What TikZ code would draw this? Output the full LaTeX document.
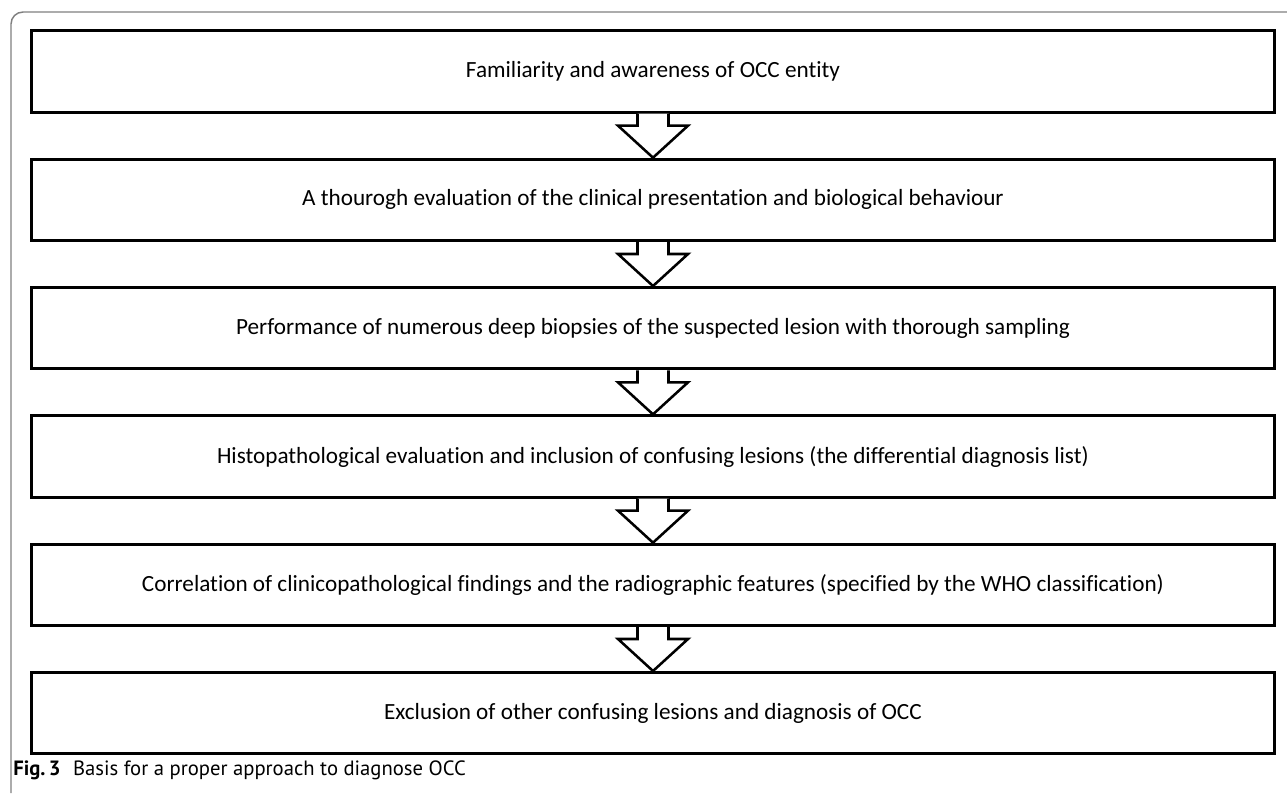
\documentclass[tikz,border=0pt]{standalone}
\usepackage{fontspec}
\setmainfont{Carlito}[Ligatures=NoCommon]
\newfontfamily\capfont{PT Sans}
\usepackage{tikz}
\usetikzlibrary{positioning}
\usetikzlibrary{calc}
\tikzset{>=stealth}
\tikzset{stepbox/.style={draw, line width=2.25pt, rectangle, minimum width=932pt, minimum height=61pt, inner sep=0pt, font=\fontsize{17.4}{20}\selectfont}}
\tikzset{downarrow/.style={draw, fill=white, line width=1.9pt, line join=miter}}

\begin{document}
\begin{tikzpicture}[x=0.75pt, y=-0.75pt]
    \useasboundingbox (0,0) rectangle (1287,793);
    %% frame
    \draw [gray, line width=1.1pt, rounded corners=9pt] (11,793) -- (11,12) -- (1287,12);
    %% steps
    \node [stepbox] (b1) at (653,71.5) {Familiarity and awareness of OCC entity};
    \node [stepbox, below=33pt of b1] (b2) {A thourogh evaluation of the clinical presentation and biological behaviour};
    \node [stepbox, below=33pt of b2] (b3) {Performance of numerous deep biopsies of the suspected lesion with thorough sampling};
    \node [stepbox, below=33pt of b3] (b4) {Histopathological evaluation and inclusion of confusing lesions (the differential diagnosis list)};
    \node [stepbox, below=33pt of b4] (b5) {Correlation of clinicopathological findings and the radiographic features (specified by the WHO classification)};
    \node [stepbox, below=33pt of b5] (b6) {Exclusion of other confusing lesions and diagnosis of OCC};
    %% Flows
    \foreach \a/\b in {b1/b2,b2/b3,b3/b4,b4/b5,b5/b6}
      \path [downarrow] ($(\a.south)+(-15.5,0)$) -- ++(0,12) -- ++(-19.5,0) -- (\b.north) -- ($(\a.south)+(35,12)$) -- ++(-19.5,0) -- ++(0,-12);
    %% caption
    \node [anchor=west, inner sep=0pt, font=\capfont\fontsize{15.5}{18}\selectfont] (cap) at (13,770) {\textbf{Fig.\,3}\hspace{0.6em}Basis for a proper approach to diagnose OCC};
\end{tikzpicture}
\end{document}
